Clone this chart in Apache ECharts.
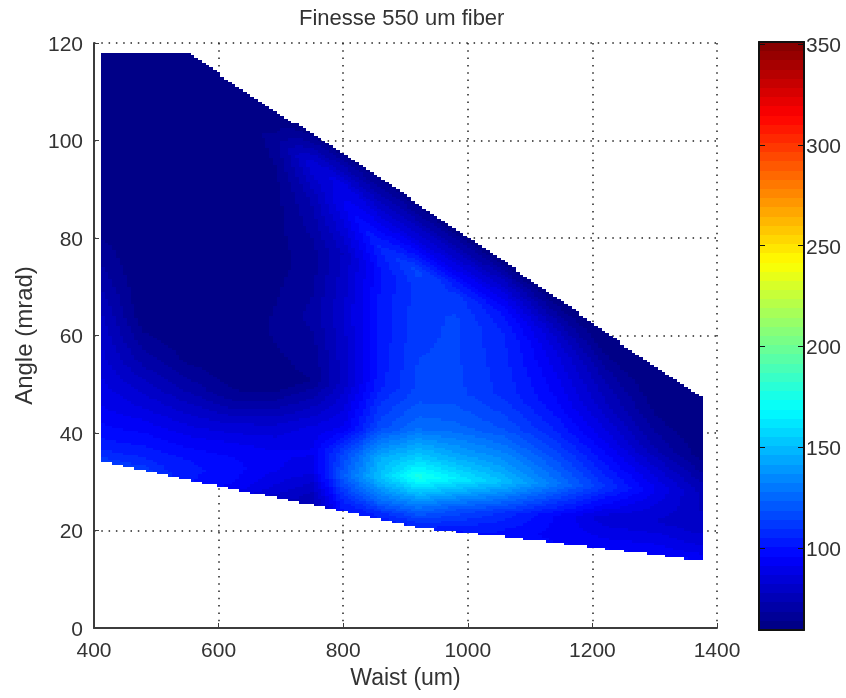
<!DOCTYPE html>
<html>
<head>
<meta charset="utf-8">
<style>html,body{margin:0;padding:0;background:#fff}#c{width:846px;height:698px}</style>
<script src="https://cdn.jsdelivr.net/npm/echarts@6/dist/echarts.min.js"></script>
</head>
<body>
<div id="c"></div>
<script>
// Waist positions of the measured columns (um)
const waists = [411,480,550,620,690,750,800,860,920,980,1060,1140,1220,1300,1378];
// Node angles (mrad) per column: first = lower edge of the surface, last = upper edge
const nodeAngles = [
 [34.3,35.5,37,38.5,41,45,50,55,65,75,85,105,118.2],
 [32.4,33.5,35,37,40,45,50,55,64,75,90,108,118.2],
 [30.4,31.5,33,35,38,43,49,55,62,75,90,108,118.2],
 [28.6,29.5,31,33,37,42,48,54,62,75,90,105,112],
 [26.8,28,30,32.5,36,41,49,55,62,75,90,100,106],
 [25.3,27,29,32,36,41,51,56,64,76,88,95,101.5],
 [24,25.5,27.5,31,36,41,50,56,65,77,87,91,97.5],
 [22.3,23.5,26,31,35,41,50,56,65,73,78,84,92.5],
 [20.6,22,25,31,35,41,48,56,65,70,73,79,87],
 [19.8,21,24.5,30.5,35,41,48,56,63,68,70,76,82],
 [18.7,20,23.5,30,35,41,48,55,60,64,67,71,75],
 [17.5,19,23,29.5,34,40,46,52,56,60,63,65,68],
 [16.3,18,22.5,29,33,39,45,50,53,55,57,59,60.8],
 [15,17,22,28.5,32,37,42,46,48,50,51,52.5,53.5],
 [13.8,16,21.5,28,31,35,39,42,43,44,45,46,47]
];
// Finesse read at those nodes
const nodeFinesse = [
 [112,108,104,101,97,92,88,84,78,68,60,59,59],
 [112,109,105,101,96,87,79,71,60,59,59,59,59],
 [102,102,102,100,94,84,72,63,59,59,59,59,59],
 [94,96,98,98,94,82,65,60,59,59,59,59,59],
 [80,84,88,92,92,84,62,63,65,62,62,66,59],
 [74,76,80,88,92,88,64,66,70,66,74,86,62],
 [100,104,110,122,114,92,80,80,82,78,92,88,62],
 [104,108,126,152,145,117,104,102,102,100,106,88,62],
 [105,112,130,176,155,127,116,114,112,112,116,88,62],
 [100,105,120,165,145,125,116,115,115,112,105,82,60],
 [100,100,108,150,135,118,108,106,105,100,92,78,60],
 [96,94,96,130,120,106,97,92,88,82,74,68,60],
 [96,92,84,110,102,90,80,74,70,66,63,61,59],
 [96,92,82,92,85,73,66,62,61,60,60,59,59],
 [96,88,78,76,70,62,60,59,59,59,59,59,59]
];
const xTicks = ['400','600','800','1000','1200','1400'];
const colorbarTicks = [100,150,200,250,300,350];
const colorMin = 59.5, colorMax = 351, levels = 64;

function clamp01(v){return Math.max(0,Math.min(1,v));}
function jet(i){
  const t=(i+0.5)/levels;
  const r=clamp01(Math.min(4*t-1.5,-4*t+4.5)),g=clamp01(Math.min(4*t-0.5,-4*t+3.5)),b=clamp01(Math.min(4*t+0.5,-4*t+2.5));
  return 'rgb('+Math.round(r*255)+','+Math.round(g*255)+','+Math.round(b*255)+')';
}
const palette=[];for(let i=0;i<levels;i++)palette.push(jet(i));
function shade(v){
  const i=Math.floor((v-colorMin)/(colorMax-colorMin)*levels);
  return palette[Math.max(0,Math.min(levels-1,i))];
}
// one mark per mesh quad: [column index, row index]
const quads=[];
for(let i=0;i<waists.length-1;i++)for(let k=0;k<nodeAngles[0].length-1;k++)quads.push([waists[i],nodeAngles[i][k],i,k]);
// colourbar: one band per colormap level
const bands=[];
for(let i=0;i<levels;i++)bands.push([0,colorMin+(colorMax-colorMin)*i/levels,colorMin+(colorMax-colorMin)*(i+1)/levels,i]);

const dx=6, da=0.5;
function renderQuad(params,api){
  const i=api.value(2),k=api.value(3);
  const x0=waists[i],x1=waists[i+1];
  const A=nodeAngles,V=nodeFinesse,children=[];
  const n0=Math.ceil((x0-waists[0])/dx-0.5);
  for(let n=n0;;n++){
    const cx=waists[0]+(n+0.5)*dx;
    if(cx>=x1)break;
    if(cx<x0)continue;
    const f=(cx-x0)/(x1-x0);
    const lo=A[i][k]+(A[i+1][k]-A[i][k])*f,hi=A[i][k+1]+(A[i+1][k+1]-A[i][k+1])*f;
    const vlo=V[i][k]+(V[i+1][k]-V[i][k])*f,vhi=V[i][k+1]+(V[i+1][k+1]-V[i][k+1])*f;
    for(let m=Math.ceil(lo/da-0.5);;m++){
      const ca=(m+0.5)*da;
      if(ca>=hi)break;
      if(ca<lo)continue;
      const s=(ca-lo)/(hi-lo),v=vlo+(vhi-vlo)*s;
      const p0=api.coord([cx-dx/2,ca+da/2]),p1=api.coord([cx+dx/2,ca-da/2]);
      const X=Math.round(p0[0]),Y=Math.round(p0[1]);
      children.push({type:'rect',shape:{x:X,y:Y,width:Math.round(p1[0])-X,height:Math.round(p1[1])-Y},style:{fill:shade(v)}});
    }
  }
  return {type:'group',children:children};
}
function renderBand(params,api){
  const p0=api.coord([0,api.value(2)]),p1=api.coord([1,api.value(1)]);
  const y=Math.round(p0[1]);
  return {type:'rect',shape:{x:p0[0],y:y,width:p1[0]-p0[0],height:Math.round(p1[1])-y},style:{fill:palette[api.value(3)]}};
}
const font='"Liberation Sans"',ink='#333';
const dots={type:[1.5,5.8],color:'#222',width:1.5};
const chart=echarts.init(document.getElementById('c'),null,{renderer:'canvas'});
chart.setOption({
  animation:false,
  backgroundColor:'#fff',
  title:{text:'Finesse 550 um fiber',left:294,top:3,textStyle:{fontFamily:font,fontSize:22,fontWeight:'normal',color:ink}},
  grid:[
    {left:94,right:129,top:43,height:585},
    {left:759,width:45,top:42,height:588}
  ],
  xAxis:[
    {gridIndex:0,type:'value',min:400,max:1400,interval:200,name:'Waist (um)',nameLocation:'middle',nameGap:39,
     nameTextStyle:{fontFamily:font,fontSize:23,color:ink},
     axisLine:{lineStyle:{color:'#3c3c3c',width:2}},axisTick:{inside:true,length:5,lineStyle:{color:'#3c3c3c'}},
     axisLabel:{fontFamily:font,fontSize:21,color:ink,margin:13,showMinLabel:true,showMaxLabel:true,
       formatter:function(v){return xTicks[(v-400)/200];}},
     splitLine:{show:true,showMinLine:false,lineStyle:dots}},
    {gridIndex:1,type:'value',min:0,max:1,position:'bottom',z:10,axisLine:{lineStyle:{color:'#111',width:2}},axisTick:{show:false},axisLabel:{show:false},splitLine:{show:false}},
    {gridIndex:1,type:'value',min:0,max:1,position:'top',z:10,axisLine:{lineStyle:{color:'#111',width:2}},axisTick:{show:false},axisLabel:{show:false},splitLine:{show:false}}
  ],
  yAxis:[
    {gridIndex:0,type:'value',min:0,max:120,interval:20,name:'Angle (mrad)',nameLocation:'middle',nameRotate:90,nameGap:56,
     nameTextStyle:{fontFamily:font,fontSize:24,color:ink},
     axisLine:{lineStyle:{color:'#3c3c3c',width:2}},axisTick:{inside:true,length:5,lineStyle:{color:'#3c3c3c'}},
     axisLabel:{fontFamily:font,fontSize:21,color:ink,margin:11,verticalAlign:'top',lineHeight:4},
     splitLine:{show:true,showMinLine:false,lineStyle:dots}},
    {gridIndex:1,type:'value',min:colorMin,max:colorMax,position:'right',z:10,
     axisLine:{onZero:false,lineStyle:{color:'#111',width:2}},
     axisTick:{inside:true,length:6,customValues:colorbarTicks,lineStyle:{color:'#111',width:1}},
     axisLabel:{fontFamily:font,fontSize:21,color:ink,margin:2,verticalAlign:'top',lineHeight:4,customValues:colorbarTicks},splitLine:{show:false}},
    {gridIndex:1,type:'value',min:colorMin,max:colorMax,position:'left',z:10,
     axisLine:{onZero:false,lineStyle:{color:'#111',width:2}},
     axisTick:{inside:true,length:6,customValues:colorbarTicks,lineStyle:{color:'#111',width:1}},
     axisLabel:{show:false},splitLine:{show:false}}
  ],
  series:[
    {type:'custom',xAxisIndex:0,yAxisIndex:0,data:quads,renderItem:renderQuad,silent:true,clip:false,encode:{x:0,y:1},progressive:0},
    {type:'custom',xAxisIndex:1,yAxisIndex:1,data:bands,renderItem:renderBand,silent:true,encode:{x:0,y:1},progressive:0}
  ]
});
</script>
</body>
</html>
